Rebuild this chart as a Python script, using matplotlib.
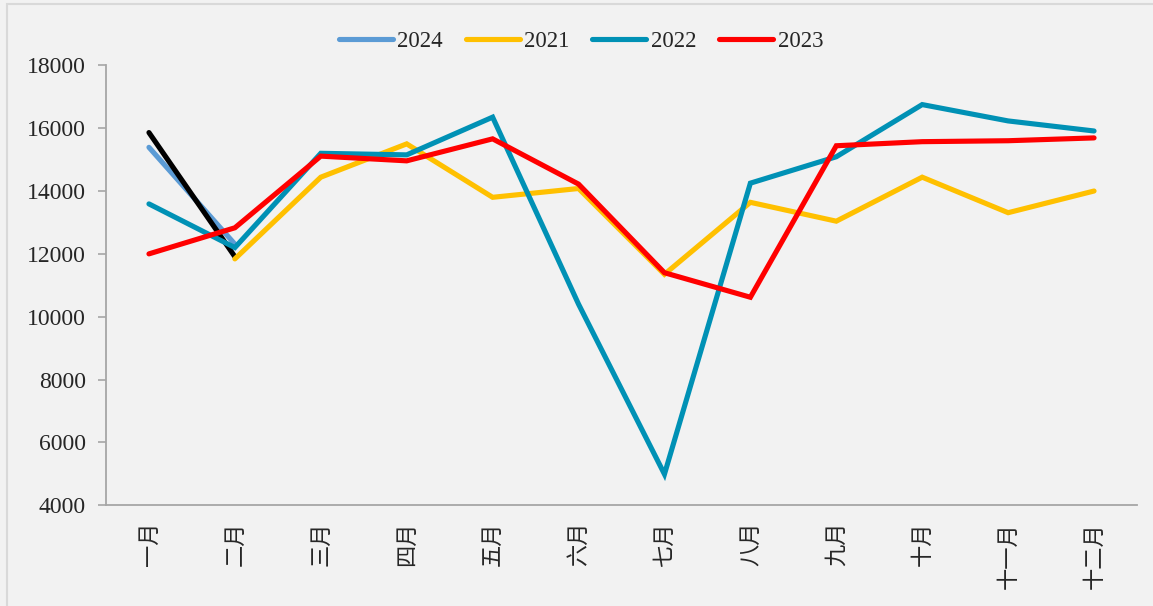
import matplotlib.pyplot as plt
from matplotlib.patches import Rectangle

months = ["一月", "二月", "三月", "四月", "五月", "六月",
          "七月", "八月", "九月", "十月", "十一月", "十二月"]

y2024 = [15390, 12310]
y2025 = [15860, 11910]  # black line, not in legend
y2021 = [None, 11840, 14440, 15500, 13800, 14080,
         11350, 13640, 13040, 14440, 13310, 14000]
y2022 = [13590, 12200, 15200, 15150, 16350, 10400,
         4990, 14250, 15090, 16750, 16230, 15910]
y2023 = [12000, 12830, 15110, 14960, 15660, 14220,
         11400, 10620, 15440, 15570, 15600, 15690]

BG = "#f2f2f2"
LW = 3.7

fig = plt.figure(figsize=(11.53, 6.06), dpi=100, facecolor=BG)
fig.patches.append(Rectangle((7 / 1153, -0.1), 1.2, 1.1 - 4 / 606,
                             transform=fig.transFigure, facecolor="none",
                             edgecolor="#d9d9d9", linewidth=1.5))
ax = fig.add_axes([106 / 1153, 1 - 505.3 / 606, 1031 / 1153, 440 / 606])
ax.set_facecolor(BG)

x = list(range(len(months)))
style = dict(linewidth=LW, solid_capstyle="round", solid_joinstyle="miter")
ax.plot(x[:len(y2024)], y2024, color="#5b9bd5", label="2024", **style)
ax.plot(x[:len(y2025)], y2025, color="#000000", **style)
ax.plot(x[1:], y2021[1:], color="#ffc000", label="2021", **style)
ax.plot(x, y2022, color="#0091b5", label="2022", **style)
ax.plot(x, y2023, color="#ff0000", label="2023", **style)

ax.set_xlim(-0.5, 11.5)
ax.set_ylim(4000, 18000)
ax.set_yticks(range(4000, 18001, 2000))
ax.set_xticks(x)
ax.set_xticklabels(months, rotation=90, va="top", ha="center",
                   fontsize=16, fontweight="light",
                   family=["Noto Sans CJK SC", "DejaVu Sans"],
                   color="#262626")
ax.tick_params(axis="x", length=0, pad=12)
ax.tick_params(axis="y", direction="out", length=5.5, width=1.2,
               color="#a6a6a6", pad=9)
for lab in ax.get_yticklabels():
    lab.set_fontfamily("Liberation Serif")
    lab.set_fontsize(17)
    lab.set_color("#262626")

for s in ["top", "right"]:
    ax.spines[s].set_visible(False)
for s in ["left", "bottom"]:
    ax.spines[s].set_color("#a6a6a6")
    ax.spines[s].set_linewidth(1.3)

leg = fig.legend(loc="center", bbox_to_anchor=(581 / 1153, 1 - 41 / 606),
                 ncol=4, frameon=False, handlelength=2.35, handletextpad=0.2,
                 columnspacing=1.0,
                 prop={"family": "Liberation Serif", "size": 16.5})
for t in leg.get_texts():
    t.set_color("#262626")

fig.savefig("out.png", dpi=100, facecolor=BG)
